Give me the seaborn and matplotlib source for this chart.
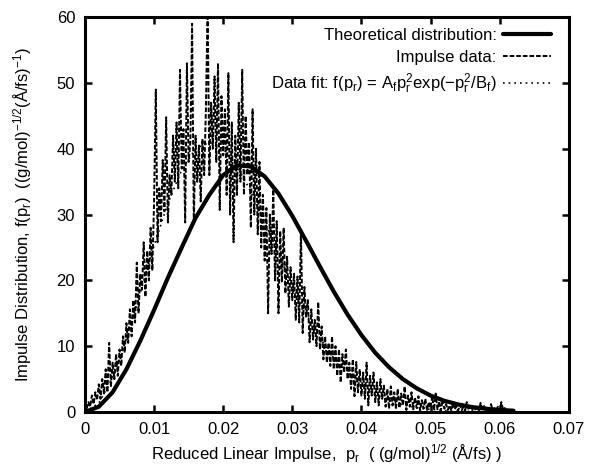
import numpy as np
import pandas as pd
import matplotlib
matplotlib.use("Agg")
import matplotlib.pyplot as plt
import seaborn as sns

# theoretical distribution, read every 0.002
theory_p = np.round(np.arange(0, 32) * 0.002, 4)
theory_f = [0.0, 0.8, 3.0, 6.5, 10.8, 15.5, 20.4, 25.0, 29.5, 33.0,
            36.0, 37.5, 37.3, 35.8, 33.2, 29.8, 26.0, 22.1, 18.3, 14.8,
            11.7, 9.0, 6.8, 5.0, 3.6, 2.5, 1.7, 1.15, 0.75, 0.5,
            0.3, 0.2]

# impulse data, read every 0.00025 starting at 0.00025
data_step = 0.00025
data_f = [
    0.5, 1.5, 0.8, 2.5, 1.2, 3.0, 1.8, 4.2, 2.0, 5.0, 2.8, 6.5, 3.0, 10.5, 3.8, 7.5, 5.0, 8.8, 5.5, 9.5,
    7.0, 11.5, 9.0, 13.5, 10.5, 15.6, 11.5, 17.0, 13.6, 22.7, 15.0, 21.0, 18.6, 25.8, 17.5, 24.5, 20.0, 28.0, 21.5, 32.0,
    49.0, 25.8, 34.0, 29.0, 38.3, 30.5, 44.8, 28.8, 36.0, 33.0, 42.0, 35.0, 44.0, 34.0, 52.0, 37.0, 43.0, 28.8, 53.0, 38.0,
    41.0, 59.0, 28.8, 42.0, 35.0, 40.5, 32.0, 41.5, 36.0, 46.0, 62.0, 36.0, 47.0, 40.0, 51.0, 38.0, 53.0, 30.7, 48.0, 39.0,
    46.0, 33.0, 51.5, 30.0, 44.0, 25.8, 42.0, 33.0, 47.0, 35.0, 52.0, 33.0, 45.0, 36.0, 41.0, 28.0, 46.0, 30.0, 40.0, 27.0,
    38.0, 25.0, 33.0, 23.0, 31.0, 15.0, 30.0, 24.0, 33.8, 20.0, 29.0, 15.0, 27.5, 19.7, 28.0, 18.0, 23.6, 16.0, 22.0, 17.0,
    21.0, 14.0, 20.6, 13.6, 27.7, 12.0, 19.0, 14.5, 17.0, 10.6, 15.6, 11.0, 14.0, 10.0, 16.7, 9.5, 13.0, 8.0, 11.5, 7.5,
    10.5, 7.0, 11.5, 6.5, 10.0, 5.5, 9.5, 4.5, 8.8, 6.0, 9.5, 5.0, 7.5, 3.5, 8.0, 2.4, 7.6, 3.0, 6.5, 2.5,
    6.0, 2.0, 7.5, 1.0, 5.5, 2.5, 6.0, 1.5, 4.5, 1.0, 5.0, 2.0, 4.0, 0.8, 3.5, 0.5, 3.9, 1.0, 3.0, 0.4,
    3.5, 0.6, 2.8, 1.0, 3.9, 0.3, 2.5, 0.8, 3.0, 0.4, 2.2, 0.6, 2.4, 0.2, 1.8, 0.5, 2.0, 0.3, 1.5, 0.6,
    2.4, 0.3, 2.8, 0.4, 1.6, 0.2, 1.9, 0.5, 1.2, 0.3, 1.0, 0.2, 1.4, 0.4, 0.9, 0.2, 1.1, 0.3, 0.8, 0.2,
    1.5, 0.3, 0.8, 0.2, 1.0, 0.4, 0.7, 0.2, 1.4, 0.3, 0.9, 0.2, 0.7, 0.3, 1.2, 0.2, 0.6, 0.3, 0.8, 0.2,
    1.5, 0.3, 0.6, 0.2, 0.4,
]
data_p = np.round(np.arange(1, len(data_f) + 1) * data_step, 5)

# fitted curve (mostly hidden under the data), read every 0.002
fit_p = theory_p
fit_f = [0.0, 1.35, 5.2, 11.1, 18.1, 25.3, 31.7, 36.8, 40.0, 41.0,
         40.0, 37.4, 33.5, 28.9, 24.0, 19.2, 14.9, 11.2, 8.2, 5.8,
         3.95, 2.6, 1.7, 1.06, 0.65, 0.39, 0.22, 0.12, 0.07, 0.04,
         0.02, 0.01]

x_ticks = [0, 0.01, 0.02, 0.03, 0.04, 0.05, 0.06, 0.07]
x_labels = ["0", "0.01", "0.02", "0.03", "0.04", "0.05", "0.06", "0.07"]
y_ticks = [0, 10, 20, 30, 40, 50, 60]

sns.set_style("ticks", {"axes.edgecolor": "black", "text.color": "black",
                        "xtick.color": "black", "ytick.color": "black",
                        "axes.labelcolor": "black"})
plt.rcParams["font.family"] = ["Liberation Sans", "DejaVu Sans"]
plt.rcParams["mathtext.fontset"] = "custom"
plt.rcParams["mathtext.rm"] = "Liberation Sans"
plt.rcParams["mathtext.it"] = "Liberation Sans"
plt.rcParams["mathtext.default"] = "regular"

fig = plt.figure(figsize=(5.9, 4.65), dpi=100)
ax = fig.add_axes([0.144, 0.114, 0.820, 0.849])

theory = pd.DataFrame({"p": theory_p, "f": theory_f})
data = pd.DataFrame({"p": data_p, "f": data_f})
fit = pd.DataFrame({"p": fit_p, "f": fit_f})

sns.lineplot(data=data, x="p", y="f", ax=ax, color="black", lw=1.4,
             linestyle=(0, (2.4, 1.0)), estimator=None, label="Impulse data:")
sns.lineplot(data=fit, x="p", y="f", ax=ax, color="black", lw=1.2,
             linestyle=(0, (1.0, 2.4)), estimator=None,
             label=r"Data fit: f(p$_r$) = $A_f p_r^2 exp(-p_r^2/B_f)$")
sns.lineplot(data=theory, x="p", y="f", ax=ax, color="black", lw=3.0,
             estimator=None, label="Theoretical distribution:")

ax.set_xlim(0, 0.07)
ax.set_ylim(0, 60)
ax.set_xticks(x_ticks)
ax.set_xticklabels(x_labels)
ax.set_yticks(y_ticks)
ax.tick_params(direction="in", length=5, width=1.8, labelsize=12, pad=7,
               top=True, right=True, colors="black")
for s in ax.spines.values():
    s.set_linewidth(2.2)
    s.set_visible(True)

ax.set_xlabel(r"Reduced Linear Impulse,  p$_r$  ( (g/mol)$^{1/2}$ (Å/fs) )", fontsize=12, labelpad=4)
ax.set_ylabel(r"Impulse Distribution, f(p$_r$)  ((g/mol)$^{-1/2}$(Å/fs)$^{-1}$)", fontsize=12, labelpad=16)

h, l = ax.get_legend_handles_labels()
order = [2, 0, 1]
ax.legend([h[i] for i in order], [l[i] for i in order], loc="upper right",
          bbox_to_anchor=(0.963, 0.972), frameon=False, markerfirst=False,
          fontsize=12, handlelength=2.9, handletextpad=0.35, labelspacing=0.4,
          borderpad=0, borderaxespad=0)

fig.savefig("out.png", dpi=100)
